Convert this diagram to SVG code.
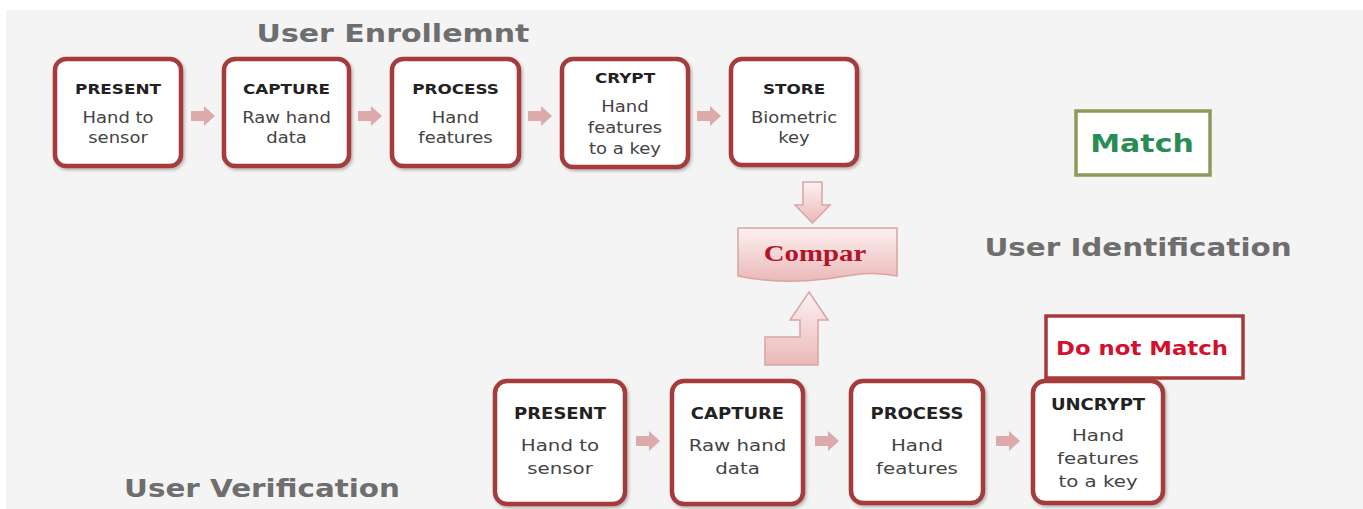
<svg xmlns="http://www.w3.org/2000/svg" width="1363" height="509" viewBox="0 0 1363 509">
<defs>
<style>
.box{fill:#fff;stroke:#a63a3a;stroke-width:4.5;filter:url(#sh)}
.t{font-family:"DejaVu Sans",sans-serif;font-weight:bold;fill:#222;text-anchor:middle}
.s{font-family:"DejaVu Sans",sans-serif;fill:#444;text-anchor:middle}
.h{font-family:"DejaVu Sans",sans-serif;font-weight:bold;fill:#6e6e6e;text-anchor:middle}
.ar{fill:#dcaaaa}
.big{fill:url(#pg);stroke:#d9a3a3;stroke-width:1.5}
</style>
<filter id="sh" x="-20%" y="-20%" width="140%" height="140%"><feDropShadow dx="1.5" dy="2" stdDeviation="1.5" flood-color="#777" flood-opacity="0.5"/></filter>
<linearGradient id="pg" x1="0" y1="0" x2="0" y2="1"><stop offset="0" stop-color="#fdf1f1"/><stop offset="1" stop-color="#eab9b9"/></linearGradient>
<path id="rarr" d="M-12,-5 H1 V-10 L12,0 L1,10 V5 H-12 Z"/>
</defs>
<rect x="0" y="0" width="1363" height="509" fill="#fff"/>
<rect x="6" y="10" width="1357" height="499" fill="#f4f4f4"/>

<g id="title-enroll"><text class="h" font-size="25" transform="translate(393,42) scale(1.2,1)">User Enrollemnt</text></g>
<g id="title-ident"><text class="h" font-size="24.5" transform="translate(1138,256) scale(1.2,1)">User Identification</text></g>
<g id="title-verif"><text class="h" font-size="24.5" transform="translate(262,497) scale(1.2,1)">User Verification</text></g>

<g id="connectors">
<use href="#rarr" class="ar" x="203" y="116"/>
<use href="#rarr" class="ar" x="370" y="116"/>
<use href="#rarr" class="ar" x="540" y="116"/>
<use href="#rarr" class="ar" x="709" y="116"/>
<use href="#rarr" class="ar" x="648" y="441"/>
<use href="#rarr" class="ar" x="827" y="441"/>
<use href="#rarr" class="ar" x="1008" y="441"/>
<path class="big" d="M803,182 H822 V205 H830 L812.5,223 L795,205 H803 Z"/>
<path class="big" d="M809,292 L828,320 H818 V365 H765 V337 H800 V320 H790 Z"/>
</g>

<g id="e-present"><rect class="box" x="55" y="59" width="126" height="107" rx="11"/>
<g transform="translate(118,0) scale(1.2,1)"><text class="t" font-size="14" y="94">PRESENT</text><text class="s" font-size="15" y="123">Hand to</text><text class="s" font-size="15" y="143">sensor</text></g></g>
<g id="e-capture"><rect class="box" x="224" y="59" width="125" height="107" rx="11"/>
<g transform="translate(286.5,0) scale(1.2,1)"><text class="t" font-size="14" y="94">CAPTURE</text><text class="s" font-size="15" y="123">Raw hand</text><text class="s" font-size="15" y="143">data</text></g></g>
<g id="e-process"><rect class="box" x="392" y="59" width="127" height="107" rx="11"/>
<g transform="translate(455.5,0) scale(1.2,1)"><text class="t" font-size="14" y="94">PROCESS</text><text class="s" font-size="15" y="123">Hand</text><text class="s" font-size="15" y="143">features</text></g></g>
<g id="e-crypt"><rect class="box" x="562" y="59" width="126" height="108" rx="11"/>
<g transform="translate(625,0) scale(1.2,1)"><text class="t" font-size="14" y="83">CRYPT</text><text class="s" font-size="15" y="112">Hand</text><text class="s" font-size="15" y="133">features</text><text class="s" font-size="15" y="154">to a key</text></g></g>
<g id="e-store"><rect class="box" x="731" y="59" width="126" height="106" rx="11"/>
<g transform="translate(794,0) scale(1.2,1)"><text class="t" font-size="14" y="94">STORE</text><text class="s" font-size="15" y="123">Biometric</text><text class="s" font-size="15" y="143">key</text></g></g>

<g id="compar"><path class="big" d="M738,228 H897 V276 C870,270 850,276 825,279 C800,282 770,283 738,276 Z"/>
<text font-family="'Liberation Serif',serif" font-weight="bold" font-size="24" fill="#b3132b" text-anchor="middle" transform="translate(815,261) scale(1.2,1)">Compar</text></g>

<g id="match"><rect x="1076" y="111" width="134" height="64" fill="#fff" stroke="#8c9a5a" stroke-width="3.5"/>
<text font-family="'DejaVu Sans',sans-serif" font-weight="bold" font-size="25" fill="#2a8c55" text-anchor="middle" transform="translate(1142,152) scale(1.2,1)">Match</text></g>

<g id="nomatch"><rect x="1046" y="316" width="197" height="62" fill="#fff" stroke="#a63a3a" stroke-width="3.5"/>
<text font-family="'DejaVu Sans',sans-serif" font-weight="bold" font-size="19" fill="#d3102e" text-anchor="middle" transform="translate(1142,355) scale(1.2,1)">Do not Match</text></g>

<g id="v-present"><rect class="box" x="495" y="381" width="130" height="123" rx="12"/>
<g transform="translate(560,0) scale(1.2,1)"><text class="t" font-size="15" y="419">PRESENT</text><text class="s" font-size="16.5" y="451">Hand to</text><text class="s" font-size="16.5" y="474">sensor</text></g></g>
<g id="v-capture"><rect class="box" x="672" y="381" width="131" height="123" rx="12"/>
<g transform="translate(737.5,0) scale(1.2,1)"><text class="t" font-size="15" y="419">CAPTURE</text><text class="s" font-size="16.5" y="451">Raw hand</text><text class="s" font-size="16.5" y="474">data</text></g></g>
<g id="v-process"><rect class="box" x="851" y="381" width="132" height="122" rx="12"/>
<g transform="translate(917,0) scale(1.2,1)"><text class="t" font-size="15" y="419">PROCESS</text><text class="s" font-size="16.5" y="451">Hand</text><text class="s" font-size="16.5" y="474">features</text></g></g>
<g id="v-uncrypt"><rect class="box" x="1033" y="381" width="130" height="122" rx="12"/>
<g transform="translate(1098,0) scale(1.2,1)"><text class="t" font-size="15" y="410">UNCRYPT</text><text class="s" font-size="16.5" y="441">Hand</text><text class="s" font-size="16.5" y="464">features</text><text class="s" font-size="16.5" y="487">to a key</text></g></g>
</svg>
